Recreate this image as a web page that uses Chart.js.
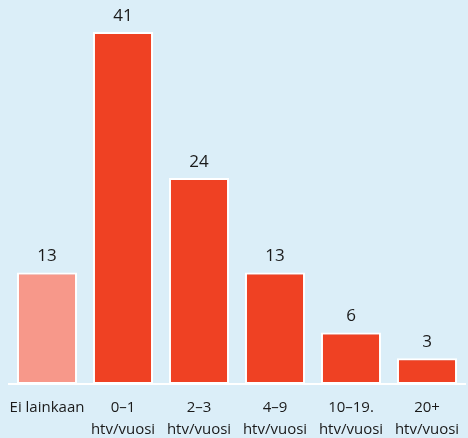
<!DOCTYPE html>
<html><head><meta charset="utf-8">
<script src="https://cdn.jsdelivr.net/npm/chart.js@4"></script>
<style>html,body{margin:0;padding:0;background:#dbeef8;}#c{display:block;}</style>
</head><body>
<canvas id="c" width="468" height="438"></canvas>
<script>
const categories = [["Ei lainkaan"], ["0–1","htv/vuosi"], ["2–3","htv/vuosi"], ["4–9","htv/vuosi"], ["10–19.","htv/vuosi"], ["20+","htv/vuosi"]];
const values = [13, 41, 24, 13, 6, 3];
const barColors = ["#f7988a", "#ef4123", "#ef4123", "#ef4123", "#ef4123", "#ef4123"];

const valueLabels = {
  id: 'valueLabels',
  afterDatasetsDraw(chart) {
    const ctx = chart.ctx;
    const meta = chart.getDatasetMeta(0);
    ctx.save();
    ctx.font = '17px "Open Sans", sans-serif';
    ctx.fillStyle = '#1a1a1a';
    ctx.textAlign = 'center';
    ctx.textBaseline = 'alphabetic';
    meta.data.forEach((bar, i) => {
      ctx.fillText(String(values[i]), bar.x, bar.y - 11);
    });
    ctx.restore();
  }
};

new Chart(document.getElementById('c'), {
  type: 'bar',
  data: {
    labels: categories,
    datasets: [{
      data: values,
      backgroundColor: barColors,
      borderColor: '#ffffff',
      borderWidth: 2,
      borderSkipped: false,
      categoryPercentage: 1,
      barPercentage: 0.79
    }]
  },
  options: {
    responsive: false,
    animation: false,
    layout: { padding: { top: 32, left: 9, right: 3, bottom: 0 } },
    plugins: { legend: { display: false }, tooltip: { enabled: false } },
    scales: {
      y: { display: false, min: 0, max: 41 },
      x: {
        afterFit(scale) { scale.height = 54; scale.paddingLeft = 0; scale.paddingRight = 0; },
        grid: { display: false, drawTicks: false },
        border: { display: true, color: '#ffffff', width: 2 },
        ticks: {
          color: '#1a1a1a',
          font: { family: '"Open Sans", sans-serif', size: 15, lineHeight: '22px' },
          padding: 13,
          maxRotation: 0,
          autoSkip: false
        }
      }
    }
  },
  plugins: [valueLabels]
});
</script>
</body></html>
